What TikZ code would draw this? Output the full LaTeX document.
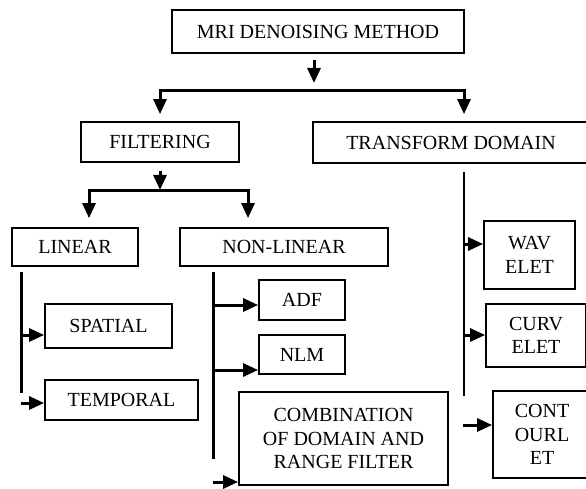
\documentclass[tikz,border=0pt]{standalone}
\usepackage{fontspec}
\setmainfont{Liberation Serif}
\usetikzlibrary{arrows.meta}
\begin{document}
\begin{tikzpicture}[x=1pt,y=-1pt,
  box/.style={draw, line width=1.8pt, inner sep=0pt, align=center,
    font=\fontsize{20}{23.5}\selectfont},
  conn/.style={line width=3pt},
  arr/.style={conn, -{Triangle[width=13pt,length=15pt]}},
]
\useasboundingbox (0,0) rectangle (586,489);
\fill[white] (0,0) rectangle (586,489);
% nodes
\node[box, minimum width=292pt, minimum height=43pt] (mri) at (318,31.5) {MRI DENOISING METHOD};
\node[box, minimum width=158pt, minimum height=40pt] (filt) at (160,142) {FILTERING};
\node[box, minimum width=276pt, minimum height=41pt] (trans) at (451,142.5) {TRANSFORM DOMAIN};
\node[box, minimum width=126pt, minimum height=38pt] (lin) at (75,247) {LINEAR};
\node[box, minimum width=208pt, minimum height=38pt] (nonlin) at (284,247) {NON-LINEAR};
\node[box, minimum width=127pt, minimum height=44pt] (spatial) at (108.5,326) {SPATIAL};
\node[box, minimum width=153pt, minimum height=40pt] (temporal) at (121.5,400) {TEMPORAL};
\node[box, minimum width=86pt, minimum height=40pt] (adf) at (302,300) {ADF};
\node[box, minimum width=86pt, minimum height=39pt] (nlm) at (302,354.5) {NLM};
\node[box, minimum width=209pt, minimum height=93pt] (comb) at (343.5,438.5) {COMBINATION\\OF DOMAIN AND\\RANGE FILTER};
\node[box, minimum width=91pt, minimum height=68pt] (wav) at (529.5,255) {WAV\\ELET};
\node[box, minimum width=100pt, minimum height=63pt] (curv) at (536,335.5) {CURV\\ELET};
\node[box, minimum width=98pt, minimum height=87pt] (cont) at (542,434.5) {CONT\\OURL\\ET};
% level 1
\coordinate (top) at (314,91);
\coordinate (bl) at (160,91);
\coordinate (br) at (464,91);
\draw[arr,shorten <=6pt,shorten >=8pt] (mri.south -| top) -- (top);
\draw[arr,shorten >=7pt] (top) -| (bl |- filt.north);
\draw[arr,shorten >=7pt] (top) -| (br |- trans.north);
% level 2
\coordinate (fb) at (160,191);
\coordinate (fl) at (89,191);
\coordinate (fr) at (248,191);
\draw[arr,shorten <=8pt,shorten >=1pt] (filt.south -| fb) -- (fb);
\draw[arr,shorten >=9pt] (fb) -| (fl |- lin.north);
\draw[arr,shorten >=9pt] (fb) -| (fr |- nonlin.north);
% linear
\coordinate (l0) at (21,272);
\coordinate (l1) at (21,393);
\coordinate (ls) at (21,335);
\coordinate (lt) at (21,403);
\draw[conn] (l0) -- (l1);
\draw[arr] (ls) -- (ls -| spatial.west);
\draw[arr] (lt) -- (lt -| temporal.west);
% non-linear
\coordinate (n0) at (213,272);
\coordinate (n1) at (213,459);
\coordinate (na) at (213,305);
\coordinate (nn) at (213,370);
\coordinate (nc) at (213,482);
\draw[conn] (n0) -- (n1);
\draw[arr] (na) -- (na -| adf.west);
\draw[arr] (nn) -- (nn -| nlm.west);
\draw[arr] (nc) -- (nc -| comb.west);
% transform
\coordinate (t0) at (464,172);
\coordinate (t1) at (464,396);
\coordinate (tw) at (464,244);
\coordinate (tc) at (464,335);
\coordinate (tt) at (463,425);
\draw[conn,line width=2.5pt] (t0) -- (t1);
\draw[arr] (tw) -- (tw -| wav.west);
\draw[arr] (tc) -- (tc -| curv.west);
\draw[arr] (tt) -- (tt -| cont.west);
\end{tikzpicture}
\end{document}
